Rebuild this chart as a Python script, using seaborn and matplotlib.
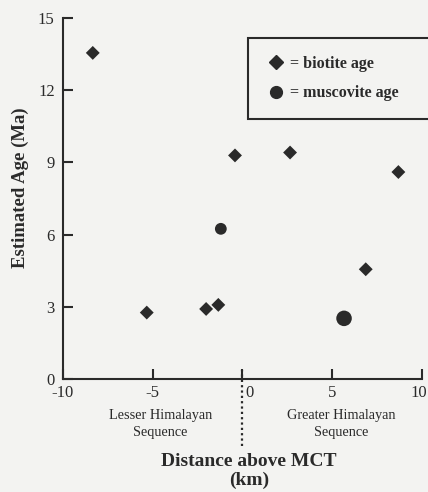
import matplotlib
matplotlib.use("Agg")
import matplotlib.pyplot as plt
import matplotlib.transforms as mtransforms
from matplotlib.lines import Line2D
import pandas as pd
import seaborn as sns

# Data
biotite_dist = [-8.34, -5.33, -2.02, -1.34, -0.41, 2.66, 8.70, 6.88]
biotite_age = [13.55, 2.76, 2.91, 3.08, 9.29, 9.41, 8.60, 4.56]
muscovite_dist = [-1.20, 5.67]
muscovite_age = [6.24, 2.52]

x_ticks = [-10, -5, 0, 5, 10]
y_ticks = [0, 3, 6, 9, 12, 15]

biotite = pd.DataFrame({"dist": biotite_dist, "age": biotite_age})
muscovite = pd.DataFrame({"dist": muscovite_dist, "age": muscovite_age})

sns.set_style("ticks")
plt.rcParams["font.family"] = ["Liberation Serif", "DejaVu Serif"]

ink = "#2a2a2a"
paper = "#f3f3f1"

fig = plt.figure(figsize=(4.28, 4.92), dpi=100, facecolor=paper)
ax = fig.add_axes([63 / 428, 1 - 379 / 492, 358.7 / 428, 361 / 492])
ax.set_facecolor(paper)

sns.scatterplot(data=biotite, x="dist", y="age", marker="D", s=50,
                color=ink, edgecolor="none", ax=ax, clip_on=False)
sns.scatterplot(data=muscovite, x="dist", y="age", marker="o", s=[72, 125],
                color=ink, edgecolor="none", ax=ax, clip_on=False)

ax.set_xlim(-10, 10)
ax.set_ylim(0, 15)
ax.set_xticks(x_ticks)
ax.set_yticks(y_ticks)
ax.set_xticklabels([str(t) for t in x_ticks])
ax.set_yticklabels([str(t) for t in y_ticks])

for side in ["top", "right"]:
    ax.spines[side].set_visible(False)
for side in ["left", "bottom"]:
    ax.spines[side].set_linewidth(1.5)
    ax.spines[side].set_color(ink)
ax.tick_params(axis="both", direction="in", length=7, width=1.5, color=ink,
               labelsize=12, labelcolor=ink)
ax.tick_params(axis="y", pad=6)
ax.tick_params(axis="x", pad=4)

# nudge a couple of x labels: "0" sits right of the dotted line, "10" hugs the edge
def nudge(label, dx_px):
    label.set_transform(label.get_transform() +
                        mtransforms.ScaledTranslation(dx_px / 100, 0, fig.dpi_scale_trans))

xlabs = ax.get_xticklabels()
nudge(xlabs[x_ticks.index(0)], 7)
nudge(xlabs[x_ticks.index(10)], -3)

# dotted MCT line
ax.axvline(0, ymin=-0.185, ymax=0.025, color=ink, lw=1.6,
           linestyle=(0, (1, 1.4)), clip_on=False)

# sequence captions below the axis
trans = mtransforms.blended_transform_factory(ax.transData, ax.transAxes)
ax.text(-4.58, -0.124, "Lesser Himalayan\nSequence", transform=trans,
        ha="center", va="center", fontsize=10.3, linespacing=1.4, color=ink)
ax.text(5.49, -0.124, "Greater Himalayan\nSequence", transform=trans,
        ha="center", va="center", fontsize=10.3, linespacing=1.4, color=ink)

ax.set_xlabel("Distance above MCT\n(km)", fontsize=14, fontweight="bold",
              color=ink, linespacing=1.12)
ax.xaxis.set_label_coords(0.518, -0.206)
ax.set_ylabel("Estimated Age (Ma)", fontsize=13.5, fontweight="bold", color=ink)
ax.yaxis.set_label_coords(-0.095, 0.53)

handles = [
    Line2D([], [], marker="D", linestyle="none", color=ink, markersize=7),
    Line2D([], [], marker="o", linestyle="none", color=ink, markersize=8.5),
]
leg = ax.legend(handles, ["= biotite age", "= muscovite age"],
                loc="upper left", mode="expand",
                bbox_to_anchor=(248 / 428, 1 - 118 / 492, 200 / 428, 80 / 492),
                bbox_transform=fig.transFigure, borderaxespad=0,
                prop={"weight": "bold", "size": 11.5},
                borderpad=1.1, labelspacing=0.85, handlelength=1.3,
                handletextpad=0.2, fancybox=False, framealpha=1,
                facecolor=paper, edgecolor=ink)
leg.get_frame().set_linewidth(1.5)
for t in leg.get_texts():
    t.set_color(ink)

fig.savefig("out.png", dpi=100, facecolor=paper)
